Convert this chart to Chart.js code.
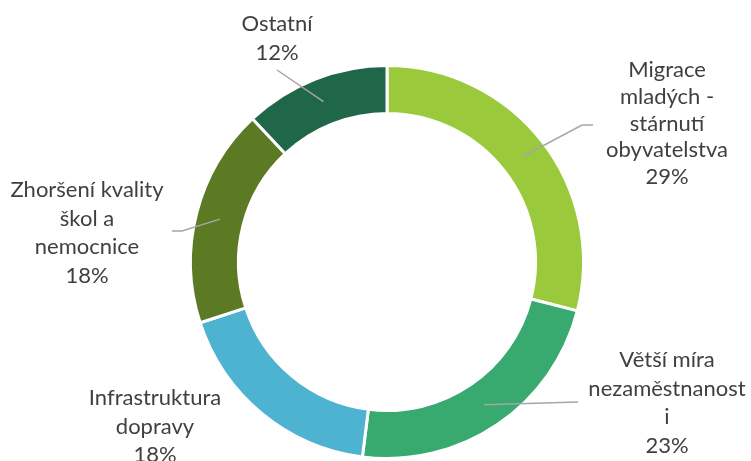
<!DOCTYPE html>
<html lang="cs">
<head>
<meta charset="utf-8">
<title>Důvody</title>
<script src="https://cdn.jsdelivr.net/npm/chart.js@4/dist/chart.umd.min.js"></script>
<style>
  html, body { margin: 0; padding: 0; background: #fff; }
  #wrap { width: 751px; height: 461px; }
</style>
</head>
<body>
<div id="wrap"><canvas id="duvodyCanvas" width="751" height="461"></canvas></div>
<script>
(function(){
'use strict';

// popisky kategorií (po řádcích, jak se zalamují)
const kategorie = [
  ['Migrace', 'mladých -', 'stárnutí', 'obyvatelstva'],
  ['Větší míra', 'nezaměstnanost', 'i'],
  ['Infrastruktura', 'dopravy'],
  ['Zhoršení kvality', 'škol a', 'nemocnice'],
  ['Ostatní']
];
const podily = [29, 23, 18, 18, 12];   // v %
const barvy  = ['#9aca3c', '#38a96f', '#4db3d1', '#5b7a23', '#206648'];

// umístění textů a vodicích čar (x středu textu, účaří prvního řádku, řádkování)
const popisky = [
  { x: 667, y: 77,  lh: 26.8, leader: [[582, 125], [593, 125]] },
  { x: 667, y: 367, lh: 28.7, leader: [[578, 402]] },
  { x: 155, y: 405, lh: 28.7, leader: null },
  { x: 87,  y: 197, lh: 28.7, leader: [[182, 231], [172, 231]] },
  { x: 277, y: 31,  lh: 29,   leader: [[277, 70]] }
];

const FONT = '22px Lato, "Open Sans", sans-serif';

const popiskyPlugin = {
  id: 'popisky',
  afterDatasetsDraw(chart){
    const ctx = chart.ctx;
    const arcs = chart.getDatasetMeta(0).data;
    ctx.save();
    arcs.forEach((arc, i) => {
      const p = popisky[i];
      const { x, y, startAngle, endAngle, innerRadius, outerRadius } = arc.getProps(
        ['x', 'y', 'startAngle', 'endAngle', 'innerRadius', 'outerRadius'], true);
      if (p.leader) {
        const mid = (startAngle + endAngle) / 2;
        const r = (innerRadius + outerRadius) / 2;
        ctx.beginPath();
        ctx.moveTo(x + Math.cos(mid) * r, y + Math.sin(mid) * r);
        p.leader.forEach(pt => ctx.lineTo(pt[0], pt[1]));
        ctx.strokeStyle = '#a6a6a6';
        ctx.lineWidth = 1.5;
        ctx.stroke();
      }
      const radky = kategorie[i].concat([podily[i] + '%']);
      ctx.fillStyle = '#404040';
      ctx.font = FONT;
      ctx.textAlign = 'center';
      ctx.textBaseline = 'alphabetic';
      radky.forEach((t, k) => ctx.fillText(t, p.x, p.y + k * p.lh));
    });
    ctx.restore();
  }
};

new Chart(document.getElementById('duvodyCanvas'), {
  type: 'doughnut',
  data: {
    labels: kategorie.map(k => k.join(' ')),
    datasets: [{
      data: podily,
      backgroundColor: barvy,
      borderColor: '#ffffff',
      borderWidth: 3
    }]
  },
  options: {
    responsive: false,
    animation: false,
    cutout: '75.6%',
    layout: { padding: { left: 189, top: 64, right: 166, bottom: 1 } },
    plugins: { legend: { display: false }, tooltip: { enabled: false } }
  },
  plugins: [popiskyPlugin]
});

})();
</script>
</body>
</html>
